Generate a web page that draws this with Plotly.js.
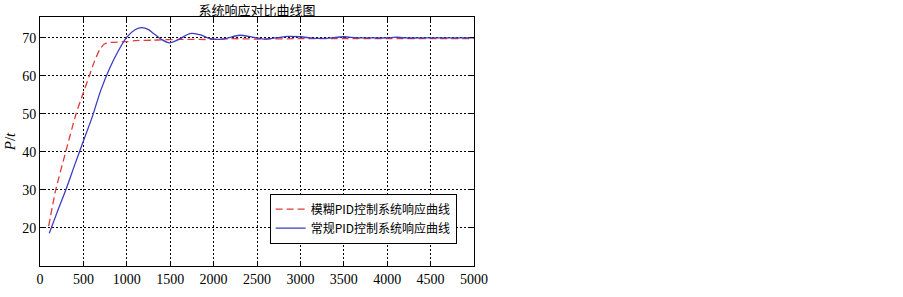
<!DOCTYPE html>
<html>
<head>
<meta charset="utf-8">
<script src="https://cdn.plot.ly/plotly-3.0.1.min.js"></script>
<style>html,body{margin:0;padding:0;background:#fff;}#chart{width:903px;height:297px;}</style>
</head>
<body>
<div id="chart"></div>
<script>
// Fuzzy PID response (red dashed)
const fuzzyT = [100, 181, 296, 415, 490, 568, 630, 690, 740, 800, 1000, 1100, 1300, 1400, 1600, 2000, 2200, 2500, 3000, 3500, 4000, 4500, 5000];
const fuzzyP = [20.5, 30, 40, 50, 55, 60, 64, 67, 68.4, 68.8, 69.0, 69.3, 69.4, 69.5, 69.6, 69.6, 69.8, 69.7, 69.8, 69.8, 69.8, 69.8, 69.8];
// Conventional PID response (blue solid)
const convT = [107, 200, 300, 400, 500, 600, 700, 800, 900, 1000, 1100, 1170, 1250, 1300, 1400, 1490, 1600, 1700, 1750, 1850, 1950, 2050, 2150, 2300, 2450, 2600, 2750, 2850, 3000, 3150, 3300, 3500, 3650, 3800, 4000, 4100, 4200, 4500, 5000];
const convP = [18.6, 24.3, 30.2, 36.6, 42.9, 49.1, 56.2, 61.9, 66.5, 70.2, 72.2, 72.7, 72.2, 71.3, 69.6, 68.7, 69.6, 70.9, 71.2, 70.8, 69.9, 69.6, 69.9, 70.7, 70.2, 69.7, 70.1, 70.4, 70.3, 69.9, 69.9, 70.3, 70.0, 70.0, 70.0, 70.2, 70.0, 70.0, 70.0];
const seriesNames = ['模糊PID控制系统响应曲线', '常规PID控制系统响应曲线'];
const xTicks = [0, 500, 1000, 1500, 2000, 2500, 3000, 3500, 4000, 4500, 5000];
const yTicks = [20, 30, 40, 50, 60, 70];

const traces = [
  {x: fuzzyT, y: fuzzyP, name: seriesNames[0], type: 'scatter', mode: 'lines',
   line: {color: '#e03a3a', width: 1.3, dash: '7px,4px', shape: 'spline', smoothing: 0.6}},
  {x: convT, y: convP, name: seriesNames[1], type: 'scatter', mode: 'lines',
   line: {color: '#3c3cc4', width: 1.3, shape: 'spline', smoothing: 0.8}}
];

const axisCommon = {
  showline: true, linecolor: '#000', linewidth: 1, mirror: 'ticks',
  ticks: 'inside', ticklen: 4, tickcolor: '#000',
  showgrid: true, gridcolor: '#000', gridwidth: 1, griddash: '2px,2px',
  zeroline: false,
  tickfont: {family: 'Liberation Serif, Times New Roman, serif', size: 14, color: '#000'}
};

const layout = {
  width: 903, height: 297,
  margin: {l: 40, r: 429, t: 17, b: 31},
  paper_bgcolor: '#fff', plot_bgcolor: '#fff',
  showlegend: true,
  title: {text: '系统响应对比曲线图', x: 0.2846, xanchor: 'center', xref: 'container',
          y: 0.966, yanchor: 'middle', yref: 'container',
          font: {family: 'Noto Sans CJK SC, sans-serif', size: 13, color: '#000'}},
  xaxis: Object.assign({}, axisCommon, {range: [0, 5000], tickvals: xTicks, ticktext: xTicks.map(String)}),
  yaxis: Object.assign({}, axisCommon, {range: [10, 75.5], tickvals: yTicks, ticktext: yTicks.map(String),
    title: {text: '<i>P</i>/<i>t</i>', standoff: 2, font: {family: 'Liberation Serif, Times New Roman, serif', size: 15, color: '#000'}}}),
  legend: {x: 0.96, xanchor: 'right', y: 0.09, yanchor: 'bottom',
           bgcolor: '#fff', bordercolor: '#000', borderwidth: 1,
           font: {family: 'Noto Sans CJK SC, sans-serif', size: 12, color: '#000'},
           itemwidth: 30, tracegroupgap: 0}
};

Plotly.newPlot('chart', traces, layout, {staticPlot: true, displayModeBar: false});
</script>
</body>
</html>
